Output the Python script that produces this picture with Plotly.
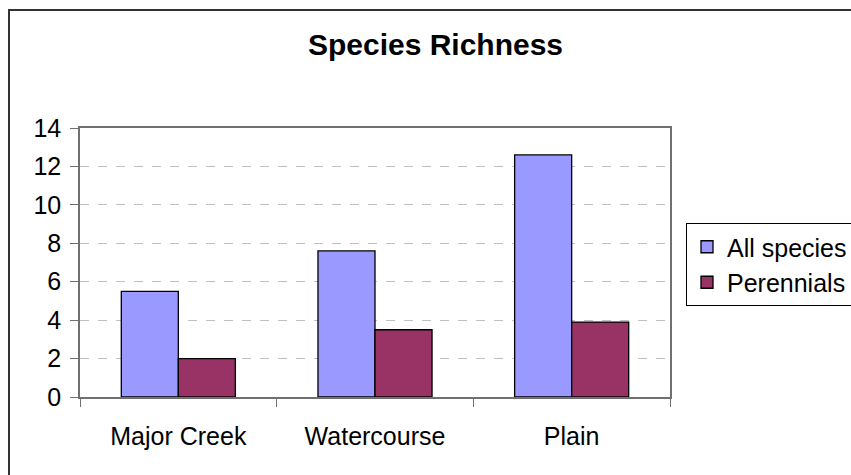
import plotly.graph_objects as go

categories = ["Major Creek", "Watercourse", "Plain"]
all_species = [5.5, 7.6, 12.6]
perennials = [2.0, 3.5, 3.9]
y_ticks = [0, 2, 4, 6, 8, 10, 12, 14]

font_family = "Liberation Sans, Arial, sans-serif"

fig = go.Figure()
fig.add_trace(go.Bar(x=categories, y=all_species, name="All species",
                     marker=dict(color="#9999FF", line=dict(color="black", width=1.3))))
fig.add_trace(go.Bar(x=categories, y=perennials, name="Perennials",
                     marker=dict(color="#993366", line=dict(color="black", width=1.3))))

fig.update_layout(
    width=851, height=475,
    margin=dict(l=80, r=181, t=128, b=78, autoexpand=False),
    paper_bgcolor="white", plot_bgcolor="white",
    barmode="group", bargap=0.42, bargroupgap=0,
    font=dict(family=font_family, size=25, color="black"),
    title=dict(text="<b>Species Richness</b>", x=435.5/851, xanchor="center",
               y=1 - 44/475, yanchor="middle", font=dict(size=30, family=font_family)),
    legend=dict(x=(686-80)/590, y=(397-223)/269, xanchor="left", yanchor="top",
                bordercolor="black", borderwidth=1, bgcolor="white",
                font=dict(size=25), tracegroupgap=0),
    showlegend=True,
)
fig.update_xaxes(showline=True, linecolor="#707070", linewidth=1.5, mirror=True,
                 ticks="outside", tickson="boundaries", ticklen=8, tickcolor="#707070",
                 ticklabelstandoff=16, showgrid=False)
fig.update_yaxes(range=[0, 14], tickvals=y_ticks, showline=True, linecolor="#707070",
                 linewidth=1.5, mirror=True, ticks="outside", ticklen=8, tickcolor="#707070",
                 ticklabelstandoff=4,
                 showgrid=True, gridcolor="#c0c0c0", griddash="dash", gridwidth=1,
                 zeroline=False)
fig.add_shape(type="rect", xref="paper", yref="paper",
              x0=(9-80)/590, x1=1.6, y0=-0.6, y1=(397-10)/269,
              line=dict(color="#333333", width=2), layer="below")
fig.write_html("out.html", config={"displayModeBar": False},
               post_script="document.body.style.margin='0px';")
